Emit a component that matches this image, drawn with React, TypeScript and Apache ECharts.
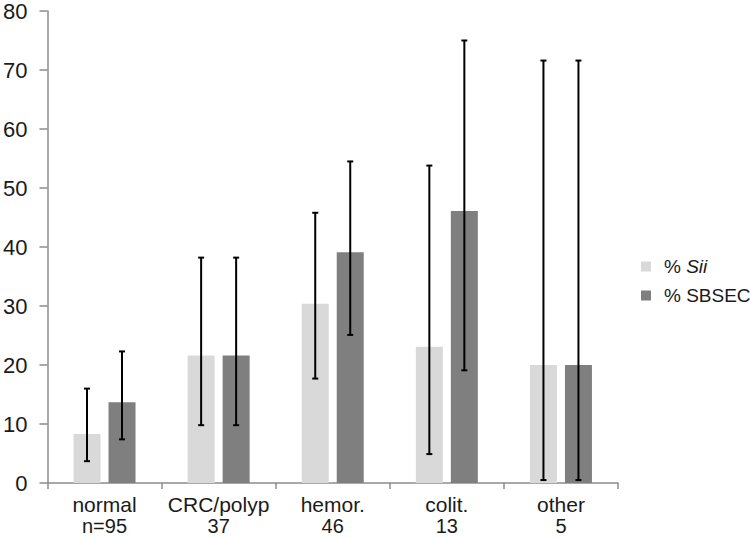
import React, { useEffect, useRef } from "react";
import * as echarts from "echarts";

const categories = ["normal", "CRC/polyp", "hemor.", "colit.", "other"];
const nLabels = ["n=95", "37", "46", "13", "5"];
const yTicks = [0, 10, 20, 30, 40, 50, 60, 70, 80];

const siiValues = [8.3, 21.6, 30.4, 23.1, 20.0];
const siiLow = [3.7, 9.8, 17.7, 4.9, 0.5];
const siiHigh = [16.0, 38.2, 45.8, 53.8, 71.6];

const sbsecValues = [13.7, 21.6, 39.1, 46.1, 20.0];
const sbsecLow = [7.4, 9.8, 25.1, 19.1, 0.5];
const sbsecHigh = [22.3, 38.2, 54.5, 75.0, 71.6];

const BAR_W = 27;
const BAR_GAP = 8;

function errorSeries(low: number[], high: number[], sign: number) {
  return {
    type: "custom",
    silent: true,
    z: 10,
    data: low.map((l, i) => [i, l, high[i]]),
    encode: { x: 0, y: [1, 2] },
    renderItem: (params: any, api: any) => {
      const i = api.value(0);
      const lo = api.coord([i, api.value(1)]);
      const hi = api.coord([i, api.value(2)]);
      const x = lo[0] + sign * (BAR_W + BAR_GAP) / 2;
      const cap = 3;
      const style = { stroke: "#000", lineWidth: 2, fill: "none" };
      return {
        type: "group",
        children: [
          { type: "line", shape: { x1: x, y1: lo[1], x2: x, y2: hi[1] }, style },
          { type: "line", shape: { x1: x - cap, y1: lo[1], x2: x + cap, y2: lo[1] }, style },
          { type: "line", shape: { x1: x - cap, y1: hi[1], x2: x + cap, y2: hi[1] }, style },
        ],
      };
    },
  };
}

export default function App() {
  const ref = useRef<HTMLDivElement>(null);
  useEffect(() => {
    if (!ref.current) return;
    const chart = echarts.init(ref.current, null, { renderer: "svg" });
    const font = "'Liberation Sans', Arial, sans-serif";
    chart.setOption({
      animation: false,
      backgroundColor: "#fff",
      textStyle: { fontFamily: font },
      grid: { left: 43, right: 132, top: 9, bottom: 55 },
      legend: {
        orient: "vertical",
        left: 636,
        top: 252,
        itemWidth: 10,
        itemHeight: 10,
        itemGap: 10,
        icon: "rect",
        data: ["% Sii", "% SBSEC"],
        formatter: (name: string) => (name === "% Sii" ? "% {i|Sii}" : name),
        textStyle: {
          fontFamily: font,
          fontSize: 19,
          color: "#1a1a1a",
          padding: [0, 0, 0, 8],
          rich: { i: { fontStyle: "italic", fontSize: 19, fontFamily: font, color: "#1a1a1a" } },
        },
      },
      xAxis: {
        type: "category",
        data: categories,
        axisLine: { show: true, lineStyle: { color: "#8c8c8c", width: 1.5 } },
        axisTick: { show: true, length: 6, lineStyle: { color: "#8c8c8c", width: 1.5 } },
        axisLabel: {
          interval: 0,
          margin: 11,
          fontSize: 21,
          lineHeight: 21,
          color: "#1a1a1a",
          fontFamily: font,
          formatter: (v: string) => {
            const i = categories.indexOf(v);
            return v + "\n{n|" + nLabels[i] + "}";
          },
          rich: { n: { fontSize: 20, lineHeight: 21, color: "#1a1a1a", fontFamily: font } },
        },
      },
      yAxis: {
        type: "value",
        min: 0,
        max: 80,
        interval: 10,
        splitLine: { show: false },
        axisLine: { show: true, lineStyle: { color: "#8c8c8c", width: 1.5 } },
        axisTick: { show: true, length: 8, lineStyle: { color: "#8c8c8c", width: 1.5 } },
        axisLabel: {
          margin: 20,
          fontSize: 22,
          color: "#1a1a1a",
          fontFamily: font,
          formatter: (v: number) => (yTicks.includes(v) ? String(v) : ""),
        },
      },
      series: [
        {
          name: "% Sii",
          type: "bar",
          data: siiValues,
          barWidth: BAR_W,
          barGap: (BAR_GAP / BAR_W) * 100 + "%",
          itemStyle: { color: "#d9d9d9" },
        },
        {
          name: "% SBSEC",
          type: "bar",
          data: sbsecValues,
          barWidth: BAR_W,
          barGap: (BAR_GAP / BAR_W) * 100 + "%",
          itemStyle: { color: "#7f7f7f" },
        },
        errorSeries(siiLow, siiHigh, -1),
        errorSeries(sbsecLow, sbsecHigh, 1),
      ],
    });
    return () => chart.dispose();
  }, []);
  return <div ref={ref} style={{ width: 750, height: 538, position: "absolute", left: 0, top: 0 }} />;
}
